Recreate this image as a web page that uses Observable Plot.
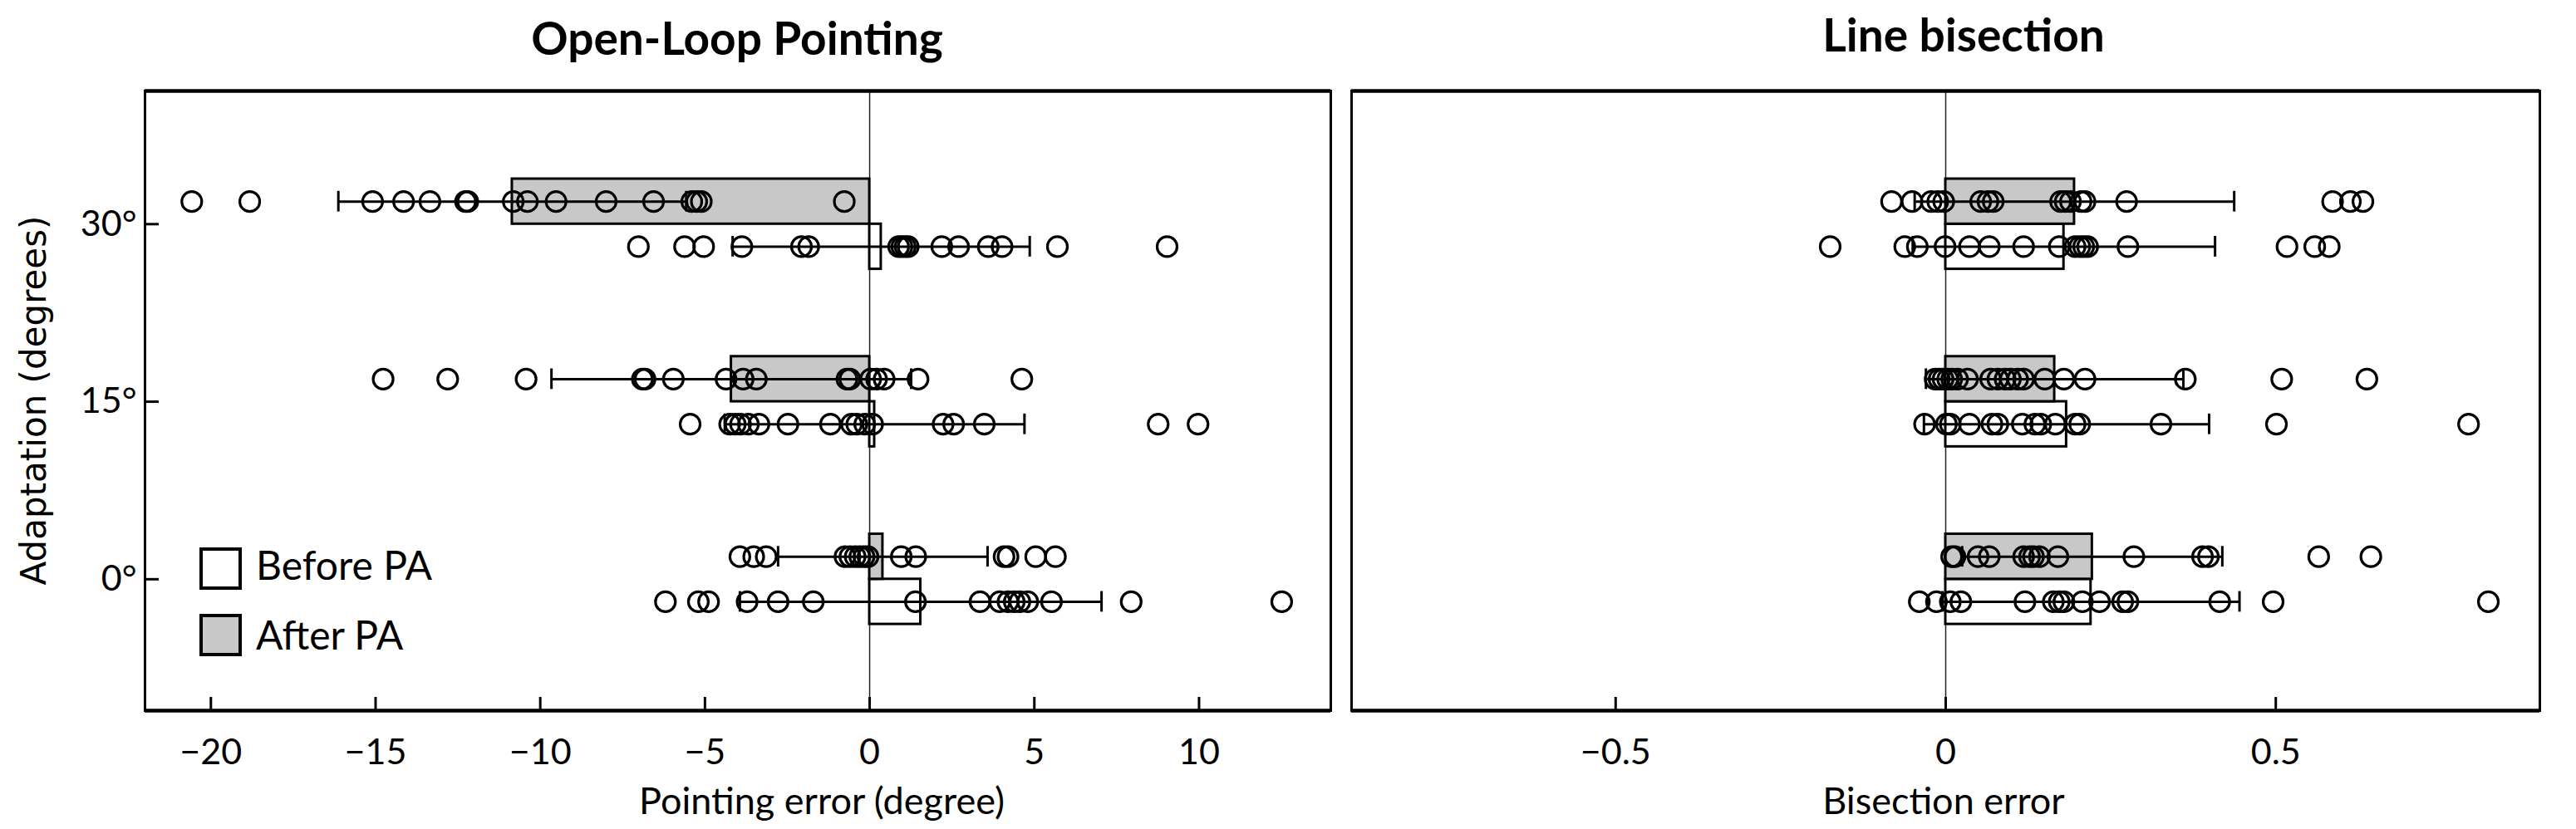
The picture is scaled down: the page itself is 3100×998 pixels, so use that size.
<!DOCTYPE html>
<html>
<head>
<meta charset="utf-8">
<script src="https://cdn.jsdelivr.net/npm/d3@7"></script>
<script src="https://cdn.jsdelivr.net/npm/@observablehq/plot@0.6"></script>
<style>
  body { margin: 0; background: #fff; }
  #wrap { position: relative; width: 3100px; height: 998px; background: #fff; overflow: hidden; font-family: Lato, sans-serif; color: #000; }
  .abs { position: absolute; white-space: nowrap; line-height: 1; }
  .title { font-weight: 700; font-size: 55px; transform: translateX(-50%); }
  .xlab { font-size: 45px; transform: translateX(-50%); }
  .ylab { font-family: "DejaVu Sans", sans-serif; font-size: 42px; transform: translate(-50%, -50%) rotate(-90deg); }
  .leg-sq { position: absolute; box-sizing: border-box; width: 51px; height: 51px; border: 4.5px solid #000; }
  .leg-tx { font-size: 48px; }
  #left, #right { position: absolute; top: 90px; }
  #left { left: 0; }
  #right { left: 1612px; }
</style>
</head>
<body>
<div id="wrap">
  <div class="abs title" style="left:887px; top:18px;">Open-Loop Pointing</div>
  <div class="abs title" style="left:2363px; top:14px;">Line bisection</div>
  <div class="abs ylab" style="left:41px; top:482px;">Adaptation (degrees)</div>
  <div class="abs xlab" style="left:989px; top:941px;">Pointing error (degree)</div>
  <div class="abs xlab" style="left:2339px; top:941px;">Bisection error</div>
  <div id="left"></div>
  <div id="right"></div>
  <div class="leg-sq" style="left:240px; top:659px; background:#fff;"></div>
  <div class="abs leg-tx" style="left:308px; top:656px;">Before PA</div>
  <div class="leg-sq" style="left:240px; top:739px; background:#c8c8c8;"></div>
  <div class="abs leg-tx" style="left:308px; top:740px;">After PA</div>
</div>
<script>
// ---------- data ----------
const categories = ["0°", "15°", "30°"];
const conditions = ["Before PA", "After PA"];

// Open-loop pointing: means and SDs (order: 0°, 15°, 30°)
const pointingMeanBefore = [1.55, 0.15, 0.35];
const pointingMeanAfter  = [0.40, -4.20, -10.85];
const pointingSdBefore   = [5.49, 4.55, 4.51];
const pointingSdAfter    = [3.18, 5.46, 5.28];

// Open-loop pointing: individual participants
const pointingBefore0  = [-6.2, -5.2, -4.89, -3.72, -2.78, -1.71, 1.39, 3.35, 3.95, 4.2, 4.39, 4.56, 4.8, 5.52, 7.94, 12.51];
const pointingAfter0   = [-3.94, -3.52, -3.14, -0.75, -0.6, -0.44, -0.3, -0.17, -0.05, 0.96, 1.4, 4.08, 4.2, 5.04, 5.64];
const pointingBefore15 = [-5.45, -4.25, -4.08, -3.92, -3.68, -3.36, -2.48, -1.19, -0.55, -0.39, -0.15, 0.09, 2.23, 2.55, 3.48, 8.76, 9.97];
const pointingAfter15  = [-14.77, -12.81, -10.43, -6.9, -6.82, -5.96, -4.36, -3.84, -3.44, -0.69, -0.6, 0.03, 0.21, 0.44, 1.47, 4.62];
const pointingBefore30 = [-7.02, -5.62, -5.04, -3.88, -2.07, -1.85, 0.88, 0.98, 1.08, 1.17, 2.19, 2.7, 3.6, 4.02, 5.7, 9.03];
const pointingAfter30  = [-20.58, -18.82, -15.09, -14.15, -13.35, -12.27, -12.2, -10.82, -10.39, -9.52, -8.0, -6.56, -5.4, -5.25, -5.11, -0.77];

// Line bisection: means and SDs (order: 0°, 15°, 30°)
const bisectMeanBefore = [0.220, 0.183, 0.179];
const bisectMeanAfter  = [0.222, 0.165, 0.195];
const bisectSdBefore   = [0.225, 0.216, 0.229];
const bisectSdAfter    = [0.197, 0.195, 0.242];

// Line bisection: individual participants
const bisectBefore0  = [-0.04, -0.014, 0.007, 0.023, 0.12, 0.163, 0.172, 0.179, 0.207, 0.233, 0.268, 0.276, 0.415, 0.496, 0.822];
const bisectAfter0   = [0.009, 0.014, 0.049, 0.066, 0.118, 0.127, 0.133, 0.142, 0.17, 0.285, 0.389, 0.398, 0.565, 0.644];
const bisectBefore15 = [-0.032, 0.001, 0.007, 0.036, 0.07, 0.079, 0.116, 0.135, 0.144, 0.166, 0.196, 0.203, 0.326, 0.501, 0.792];
const bisectAfter15  = [-0.016, -0.01, -0.004, 0.003, 0.009, 0.018, 0.033, 0.068, 0.079, 0.09, 0.098, 0.109, 0.118, 0.15, 0.179, 0.211, 0.363, 0.509, 0.638];
const bisectBefore30 = [-0.175, -0.062, -0.043, -0.001, 0.036, 0.066, 0.118, 0.172, 0.196, 0.203, 0.209, 0.215, 0.276, 0.517, 0.559, 0.581];
const bisectAfter30  = [-0.082, -0.051, -0.022, -0.012, -0.003, 0.053, 0.064, 0.072, 0.174, 0.181, 0.189, 0.205, 0.211, 0.274, 0.586, 0.613, 0.632];

const pointingTicks = [-20, -15, -10, -5, 0, 5, 10];
const bisectTicks = [-0.5, 0, 0.5];

// ---------- layout constants ----------
const GRAY = "#c8c8c8";
const HALF = 0.127;   // half bar thickness (y units)
const CAP = 0.058;    // half cap length (y units)
const H = 908, MT = 19, MB = 143;
const FRAME_H = H - MT - MB;
const Y_DOMAIN = [-0.74, 2.75];
const fmt = d => String(d).replace("-", "\u2212");

function buildPanel({means, sds, points, xDomain, xTicks, width, marginLeft, marginRight, showY}) {
  const frameW = width - marginLeft - marginRight;
  const summary = [];
  const dots = [];
  conditions.forEach(cond => {
    categories.forEach((cat, k) => {
      const yc = k + (cond === "After PA" ? HALF : -HALF);
      summary.push({cat, cond, yc, mean: means[cond][k], sd: sds[cond][k]});
      points[cond][k].forEach(v => dots.push({cat, cond, yc, value: v}));
    });
  });
  const caps = summary.flatMap(d => [
    {yc: d.yc, x: d.mean - d.sd},
    {yc: d.yc, x: d.mean + d.sd}
  ]);
  const marks = [
    Plot.ruleX([0], {stroke: "#222", strokeWidth: 1.5}),
    Plot.rect(summary, {
      x1: 0, x2: "mean",
      y1: d => d.yc - HALF, y2: d => d.yc + HALF,
      fill: d => d.cond === "After PA" ? GRAY : "white",
      stroke: "black", strokeWidth: 3
    }),
    Plot.ruleY(summary, {y: "yc", x1: d => d.mean - d.sd, x2: d => d.mean + d.sd, stroke: "black", strokeWidth: 3}),
    Plot.ruleX(caps, {x: "x", y1: d => d.yc - CAP, y2: d => d.yc + CAP, stroke: "black", strokeWidth: 3}),
    Plot.dot(dots, {x: "value", y: "yc", r: 12, stroke: "black", strokeWidth: 3.2, fill: "none"}),
    Plot.ruleX(xTicks, {x: d => d, insetTop: FRAME_H - 16, stroke: "black", strokeWidth: 3}),
    Plot.axisX(xTicks, {tickSize: 0, tickPadding: 34, fontSize: 43, tickFormat: fmt, label: null}),
    Plot.frame({stroke: "black", strokeWidth: 3}),
    Plot.ruleY(Y_DOMAIN, {stroke: "black", strokeWidth: 4.5})
  ];
  if (showY) {
    marks.push(
      Plot.ruleY([0, 1, 2], {y: d => d, insetRight: frameW - 17, stroke: "black", strokeWidth: 3}),
      Plot.axisY([0, 1, 2], {tickSize: 0, tickPadding: 10, fontSize: 43, tickFormat: k => categories[k], label: null})
    );
  }
  return Plot.plot({
    width, height: H,
    marginLeft, marginRight, marginTop: MT, marginBottom: MB,
    style: {fontFamily: "Lato, sans-serif", fontSize: "43px", color: "black", background: "transparent", overflow: "visible"},
    x: {domain: xDomain},
    y: {domain: Y_DOMAIN, axis: showY ? undefined : null},
    marks
  });
}

const leftPlot = buildPanel({
  means: {"Before PA": pointingMeanBefore, "After PA": pointingMeanAfter},
  sds: {"Before PA": pointingSdBefore, "After PA": pointingSdAfter},
  points: {
    "Before PA": [pointingBefore0, pointingBefore15, pointingBefore30],
    "After PA": [pointingAfter0, pointingAfter15, pointingAfter30]
  },
  xDomain: [-22, 14], xTicks: pointingTicks,
  width: 1612, marginLeft: 174, marginRight: 11, showY: true
});
document.getElementById("left").appendChild(leftPlot);

const rightPlot = buildPanel({
  means: {"Before PA": bisectMeanBefore, "After PA": bisectMeanAfter},
  sds: {"Before PA": bisectSdBefore, "After PA": bisectSdAfter},
  points: {
    "Before PA": [bisectBefore0, bisectBefore15, bisectBefore30],
    "After PA": [bisectAfter0, bisectAfter15, bisectAfter30]
  },
  xDomain: [-0.9, 0.9], xTicks: bisectTicks,
  width: 1488, marginLeft: 14, marginRight: 44, showY: false
});
document.getElementById("right").appendChild(rightPlot);
</script>
</body>
</html>
